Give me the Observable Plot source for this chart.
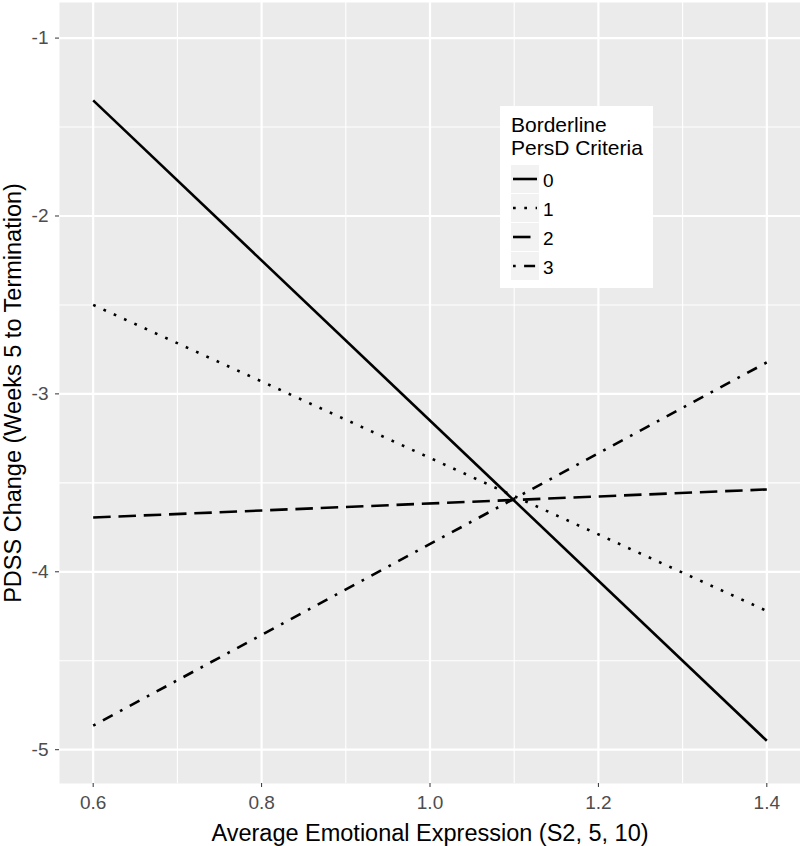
<!DOCTYPE html>
<html>
<head>
<meta charset="utf-8">
<script src="https://cdn.jsdelivr.net/npm/d3@7"></script>
<script src="https://cdn.jsdelivr.net/npm/@observablehq/plot@0.6"></script>
<style>
  body { margin: 0; background: white; }
  #wrap { position: relative; width: 800px; height: 846px; font-family: "Liberation Sans", Arial, sans-serif; }
  #legend { position: absolute; left: 500px; top: 106px; width: 153px; height: 182px; background: white; }
  g[aria-label="x-axis tick label"] text, g[aria-label="y-axis tick label"] text { fill: #4d4d4d; font-size: 19px; }
  g[aria-label="x-axis label"] text, g[aria-label="y-axis label"] text { font-size: 23.5px; fill: black; }
</style>
</head>
<body>
<div id="wrap"></div>
<script>
// ---- data ----
const xPoints = [0.6, 1.4];
const criteria = ["0", "1", "2", "3"];
const yAtStart = [-1.35, -2.50, -3.695, -4.865];  // at x = 0.6
const yAtEnd = [-4.95, -4.22, -3.537, -2.823];    // at x = 1.4
const xTicks = [0.6, 0.8, 1.0, 1.2, 1.4];
const xMinor = [0.7, 0.9, 1.1, 1.3];
const yTicks = [-1, -2, -3, -4, -5];
const yMinor = [-1.5, -2.5, -3.5, -4.5];
const legendTitle = ["Borderline", "PersD Criteria"];
const xTitle = "Average Emotional Expression (S2, 5, 10)";
const yTitle = "PDSS Change (Weeks 5 to Termination)";

const rows = [];
criteria.forEach((c, i) => {
  rows.push({crit: c, x: xPoints[0], y: yAtStart[i]});
  rows.push({crit: c, x: xPoints[1], y: yAtEnd[i]});
});

const dashes = {"0": null, "1": "2.7,8.6", "2": "17.5,7.8", "3": "2.7,8.4,11,8.4"};

const lineMarks = criteria.map(c => Plot.line(rows.filter(r => r.crit === c), {
  x: "x", y: "y", stroke: "black", strokeWidth: 2.6,
  strokeDasharray: dashes[c] || undefined, strokeLinecap: "butt"
}));

const chart = Plot.plot({
  width: 800,
  height: 846,
  marginLeft: 59,
  marginRight: 0,
  marginTop: 2,
  marginBottom: 63,
  style: {fontFamily: "Liberation Sans, Arial, sans-serif", fontSize: "19px", background: "white", overflow: "visible"},
  x: {domain: [0.56, 1.44]},
  y: {domain: [-5.19, -0.80]},
  marks: [
    Plot.frame({fill: "#EBEBEB", stroke: null}),
    Plot.gridX(xMinor, {stroke: "white", strokeOpacity: 1, strokeWidth: 1.1}),
    Plot.gridY(yMinor, {stroke: "white", strokeOpacity: 1, strokeWidth: 1.1}),
    Plot.gridX(xTicks, {stroke: "white", strokeOpacity: 1, strokeWidth: 2.2}),
    Plot.gridY(yTicks, {stroke: "white", strokeOpacity: 1, strokeWidth: 2.2}),
    ...lineMarks,
    Plot.axisX(xTicks, {
      tickSize: 4, tickPadding: 8, stroke: "#333", fontSize: 19, tickFormat: d3.format(".1f"),
      label: xTitle, labelAnchor: "center", labelArrow: "none", labelOffset: 57
    }),
    Plot.axisY(yTicks, {
      tickSize: 4, tickPadding: 7, stroke: "#333", fontSize: 19, tickFormat: d => `${d}`,
      label: yTitle, labelAnchor: "center", labelArrow: "none", labelOffset: 55
    })
  ]
});

const wrap = document.getElementById("wrap");
wrap.appendChild(chart);

// ---- legend ----
const legend = document.createElement("div");
legend.id = "legend";
const ns = "http://www.w3.org/2000/svg";
const lsvg = document.createElementNS(ns, "svg");
lsvg.setAttribute("width", 153);
lsvg.setAttribute("height", 182);
lsvg.style.fontFamily = "Liberation Sans, Arial, sans-serif";
legendTitle.forEach((t, i) => {
  const tx = document.createElementNS(ns, "text");
  tx.setAttribute("x", 11);
  tx.setAttribute("y", 26 + i * 23);
  tx.setAttribute("font-size", 21);
  tx.setAttribute("fill", "black");
  tx.textContent = t;
  lsvg.appendChild(tx);
});
criteria.forEach((c, i) => {
  const top = 59 + i * 29;
  const r = document.createElementNS(ns, "rect");
  r.setAttribute("x", 11); r.setAttribute("y", top);
  r.setAttribute("width", 28); r.setAttribute("height", 28);
  r.setAttribute("fill", "#F2F2F2");
  lsvg.appendChild(r);
  const l = document.createElementNS(ns, "line");
  l.setAttribute("x1", 13); l.setAttribute("x2", 37);
  l.setAttribute("y1", top + 14); l.setAttribute("y2", top + 14);
  l.setAttribute("stroke", "black"); l.setAttribute("stroke-width", 2.6);
  if (dashes[c]) l.setAttribute("stroke-dasharray", dashes[c]);
  lsvg.appendChild(l);
  const tx = document.createElementNS(ns, "text");
  tx.setAttribute("x", 43); tx.setAttribute("y", top + 22);
  tx.setAttribute("font-size", 19);
  tx.setAttribute("fill", "black");
  tx.textContent = c;
  lsvg.appendChild(tx);
});
legend.appendChild(lsvg);
wrap.appendChild(legend);
</script>
</body>
</html>
